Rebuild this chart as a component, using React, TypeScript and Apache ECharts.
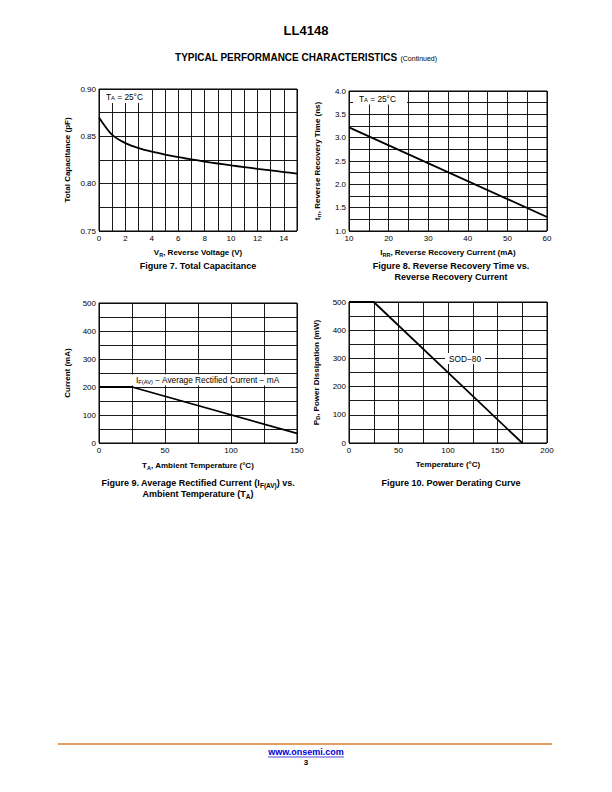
import React, { useEffect, useRef } from "react";
import * as echarts from "echarts";

// ---------- Data ----------
// Figure 7: Total capacitance vs reverse voltage
const capVoltage = [0, 1, 2, 3, 4, 5, 6, 7, 8, 9, 10, 11, 12, 13, 14, 15];
const capValues = [0.87, 0.8515, 0.8428, 0.8376, 0.8338, 0.8308, 0.8281, 0.8257, 0.8234, 0.8213, 0.8193, 0.8175, 0.8157, 0.814, 0.8123, 0.8106];

// Figure 8: Reverse recovery time vs reverse recovery current
const irrCurrent = [10, 60];
const trrTime = [3.22, 1.3];

// Figure 9: Average rectified current vs ambient temperature
const ifTemp = [0, 25, 150];
const ifCurrent = [200, 200, 34];

// Figure 10: Power derating curve
const pdTemp = [0, 25, 175];
const pdPower = [500, 500, 0];

// Tick label settings
const fig7X = { min: 0, max: 15, interval: 1, labelStep: 2, digits: 0 };
const fig7Y = { min: 0.75, max: 0.9, interval: 0.025, labelStep: 0.05, digits: 2 };
const fig8X = { min: 10, max: 60, interval: 5, labelStep: 10, digits: 0 };
const fig8Y = { min: 1, max: 4, interval: 0.25, labelStep: 0.5, digits: 1 };
const fig9X = { min: 0, max: 150, interval: 25, labelStep: 50, digits: 0 };
const fig9Y = { min: 0, max: 500, interval: 50, labelStep: 100, digits: 0 };
const fig10X = { min: 0, max: 200, interval: 25, labelStep: 50, digits: 0 };
const fig10Y = { min: 0, max: 500, interval: 50, labelStep: 100, digits: 0 };

const FONT = "Liberation Sans, Arial, Helvetica, sans-serif";

const nameRich = {
  b: { fontSize: 8, fontWeight: "bold", fontFamily: FONT, color: "#000" },
  s: { fontSize: 5.5, fontWeight: "bold", fontFamily: FONT, color: "#000", padding: [3.5, 0, 0, 0] },
};

const capRich = {
  c: { fontSize: 9, fontWeight: "bold", fontFamily: FONT, fill: "#000" },
  s: { fontSize: 6.5, fontWeight: "bold", fontFamily: FONT, fill: "#000", padding: [4, 0, 0, 0] },
};

const annRich = {
  a: { fontSize: 8.3, fontFamily: FONT, fill: "#000" },
  s: { fontSize: 5.8, fontFamily: FONT, fill: "#000", padding: [3.5, 0, 0, 0] },
};

function stepFormatter(step: number, digits: number) {
  return (v: number) => {
    const r = v / step;
    return Math.abs(r - Math.round(r)) < 1e-6 ? v.toFixed(digits) : "";
  };
}

function makeAxis(kind: "x" | "y", gridIndex: number, cfg: any, name: string, nameGap: number) {
  return {
    type: "value",
    gridIndex,
    min: cfg.min,
    max: cfg.max,
    interval: cfg.interval,
    name,
    nameLocation: "middle",
    nameGap,
    nameTextStyle: { rich: nameRich, fontSize: 8, fontWeight: "bold", fontFamily: FONT, color: "#000" },
    axisLine: { show: false },
    axisTick: { show: false },
    axisLabel: {
      formatter: stepFormatter(cfg.labelStep, cfg.digits),
      fontSize: 8,
      fontFamily: FONT,
      color: "#000",
      margin: 3,
      showMinLabel: true,
      showMaxLabel: true,
    },
    splitLine: { show: true, lineStyle: { color: "#000", width: 0.9 } },
  };
}

const grids = [
  { left: 99, top: 89, width: 198, height: 142 },
  { left: 349, top: 91, width: 198, height: 140 },
  { left: 99, top: 303, width: 198, height: 140 },
  { left: 349, top: 302, width: 198, height: 141 },
].map((g) => ({ ...g, show: true, borderColor: "#000", borderWidth: 1, backgroundColor: "#fff", containLabel: false }));

function pairs(xs: number[], ys: number[]) {
  return xs.map((x, i) => [x, ys[i]]);
}

const lineStyle = { color: "#000", width: 1.8 };

function whiteRect(x: number, y: number, w: number, h: number) {
  return { type: "rect", z: 100, shape: { x, y, width: w, height: h }, style: { fill: "#fff" } };
}

function txt(x: number, y: number, text: string, rich: any, align = "center", extra: any = {}) {
  return {
    type: "text",
    z: 101,
    x,
    y,
    style: { text, rich, align, verticalAlign: "middle", fontFamily: FONT, fill: "#000", ...extra },
  };
}

const option: any = {
  animation: false,
  backgroundColor: "#fff",
  grid: grids,
  xAxis: [
    makeAxis("x", 0, fig7X, "{b|V}{s|R}{b|, Reverse Voltage (V)}", 17),
    makeAxis("x", 1, fig8X, "{b|I}{s|RR}{b|, Reverse Recovery Current (mA)}", 17),
    makeAxis("x", 2, fig9X, "{b|T}{s|A}{b|, Ambient Temperature (°C)}", 18),
    makeAxis("x", 3, fig10X, "{b|Temperature (°C)}", 17),
  ],
  yAxis: [
    makeAxis("y", 0, fig7Y, "{b|Total Capacitance (pF)}", 28),
    makeAxis("y", 1, fig8Y, "{b|t}{s|rr}{b|, Reverse Recovery Time (ns)}", 27),
    makeAxis("y", 2, fig9Y, "{b|Current (mA)}", 28),
    makeAxis("y", 3, fig10Y, "{b|P}{s|D}{b|, Power Dissipation (mW)}", 28),
  ],
  series: [
    { type: "line", xAxisIndex: 0, yAxisIndex: 0, data: pairs(capVoltage, capValues), smooth: 0.3, showSymbol: false, symbol: "none", lineStyle },
    { type: "line", xAxisIndex: 1, yAxisIndex: 1, data: pairs(irrCurrent, trrTime), showSymbol: false, symbol: "none", lineStyle },
    { type: "line", xAxisIndex: 2, yAxisIndex: 2, data: pairs(ifTemp, ifCurrent), showSymbol: false, symbol: "none", lineStyle },
    { type: "line", xAxisIndex: 3, yAxisIndex: 3, data: pairs(pdTemp, pdPower), showSymbol: false, symbol: "none", lineStyle },
  ],
  graphic: [
    // Page title & header
    { type: "text", x: 306, y: 30, style: { text: "LL4148", fontSize: 13, fontWeight: "bold", fontFamily: FONT, fill: "#000", align: "center", verticalAlign: "middle" } },
    {
      type: "text",
      x: 306,
      y: 57,
      style: {
        text: "{h|TYPICAL PERFORMANCE CHARACTERISTICS} {c|(Continued)}",
        align: "center",
        verticalAlign: "middle",
        rich: {
          h: { fontSize: 10, fontWeight: "bold", fontFamily: FONT, fill: "#000" },
          c: { fontSize: 7, fontFamily: FONT, fill: "#000", padding: [2, 0, 0, 0] },
        },
      },
    },
    // Annotation boxes
    whiteRect(100, 90, 47, 13),
    txt(106, 96.5, "{a|T}{s|A}{a| = 25°C}", annRich, "left"),
    whiteRect(353, 92, 54, 12.5),
    txt(359, 98.5, "{a|T}{s|A}{a| = 25°C}", annRich, "left"),
    whiteRect(132, 374.5, 154, 11),
    txt(136, 380, "{a|I}{s|F(AV)}{a| − Average Rectified Current − mA}", annRich, "left"),
    whiteRect(445, 353, 40, 11),
    txt(465, 358.5, "{a|SOD−80}", annRich, "center"),
    // Captions
    txt(198, 266, "{c|Figure 7. Total Capacitance}", capRich),
    txt(451, 266, "{c|Figure 8. Reverse Recovery Time vs.}", capRich),
    txt(451, 277, "{c|Reverse Recovery Current}", capRich),
    txt(198, 483, "{c|Figure 9. Average Rectified Current (I}{s|F(AV)}{c|) vs.}", capRich),
    txt(198, 494, "{c|Ambient Temperature (T}{s|A}{c|)}", capRich),
    txt(451, 483, "{c|Figure 10. Power Derating Curve}", capRich),
    // Footer
    { type: "line", shape: { x1: 58, y1: 744, x2: 552, y2: 744 }, style: { stroke: "#dc7d2e", lineWidth: 1.6 } },
    { type: "text", x: 306, y: 752, style: { text: "www.onsemi.com", fontSize: 9, fontWeight: "bold", fontFamily: FONT, fill: "#0000cc", align: "center", verticalAlign: "middle" } },
    { type: "line", shape: { x1: 268, y1: 757, x2: 344, y2: 757 }, style: { stroke: "#0000cc", lineWidth: 0.7 } },
    { type: "text", x: 306, y: 762, style: { text: "3", fontSize: 8, fontWeight: "bold", fontFamily: FONT, fill: "#000", align: "center", verticalAlign: "middle" } },
  ],
};

export default function App() {
  const ref = useRef<HTMLDivElement>(null);
  useEffect(() => {
    if (!ref.current) return;
    const chart = echarts.init(ref.current, null, { renderer: "svg" });
    chart.setOption(option);
    return () => chart.dispose();
  }, []);
  return (
    <div
      ref={ref}
      style={{ position: "absolute", left: 0, top: 0, width: 612, height: 792, background: "#fff" }}
    />
  );
}
